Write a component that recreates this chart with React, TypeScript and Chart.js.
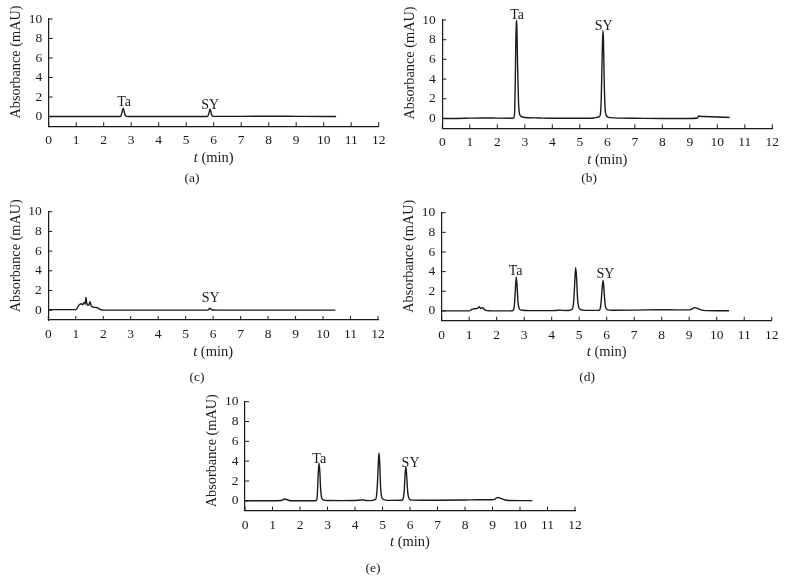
import React, { useEffect, useRef } from "react";
import { Chart, registerables } from "chart.js";

Chart.register(...registerables);

// ---------- data ----------
const X_TICKS = [0, 1, 2, 3, 4, 5, 6, 7, 8, 9, 10, 11, 12];
const Y_TICKS = [0, 2, 4, 6, 8, 10];

const timeA = [0, 1.0, 2.0, 2.6, 2.64, 2.68, 2.71, 2.74, 2.78, 2.84, 3.0, 4.0, 5.0, 5.75, 5.8, 5.84, 5.87, 5.9, 5.94, 6.0, 7.0, 8.0, 9.0, 10.0, 10.45];
const absA = [0, 0, 0, 0, 0.15, 0.6, 0.85, 0.55, 0.15, 0.02, 0, 0, 0, 0, 0.1, 0.5, 0.75, 0.45, 0.1, 0.02, 0.02, 0.03, 0.02, 0.01, 0];

const timeB = [0, 0.5, 1.0, 1.5, 2.0, 2.5, 2.6, 2.63, 2.66, 2.69, 2.71, 2.74, 2.77, 2.8, 2.85, 2.92, 3.0, 3.5, 4.0, 4.5, 5.0, 5.5, 5.68, 5.74, 5.78, 5.81, 5.84, 5.86, 5.89, 5.92, 5.96, 6.02, 6.1, 6.5, 7, 8, 9, 9.28, 9.32, 9.36, 9.5, 10, 10.45];
const absB = [0, 0, 0.03, 0.05, 0.03, 0.02, 0.05, 0.6, 5.0, 10.0, 9.5, 5.0, 1.8, 0.6, 0.25, 0.15, 0.1, 0.05, 0.02, 0.02, 0.02, 0.05, 0.15, 0.3, 2.0, 6.0, 8.95, 8.0, 3.5, 1.0, 0.35, 0.15, 0.08, 0.03, 0.02, 0, 0, 0.05, 0.25, 0.22, 0.2, 0.15, 0.1];

const timeC = [0, 0.5, 1.0, 1.05, 1.1, 1.15, 1.2, 1.25, 1.3, 1.34, 1.37, 1.4, 1.44, 1.48, 1.52, 1.56, 1.6, 1.66, 1.72, 1.78, 1.84, 1.9, 2.0, 3, 4, 5, 5.8, 5.85, 5.88, 5.92, 5.98, 6.5, 7, 8, 9, 10, 10.45];
const absC = [0.05, 0.05, 0.05, 0.2, 0.45, 0.6, 0.65, 0.55, 0.75, 0.6, 1.3, 0.7, 0.5, 0.55, 0.85, 0.45, 0.35, 0.3, 0.28, 0.25, 0.15, 0.05, 0, 0, 0, 0, 0, 0.12, 0.2, 0.1, 0.02, 0, 0, 0, 0, 0, 0];

const timeD = [0, 0.5, 1.0, 1.08, 1.15, 1.25, 1.32, 1.37, 1.41, 1.45, 1.5, 1.55, 1.6, 1.7, 2.0, 2.5, 2.6, 2.64, 2.68, 2.71, 2.74, 2.77, 2.81, 2.86, 2.95, 3.2, 4.0, 4.25, 4.3, 4.35, 4.6, 4.75, 4.8, 4.84, 4.87, 4.9, 4.94, 4.98, 5.04, 5.12, 5.3, 5.7, 5.76, 5.8, 5.84, 5.87, 5.9, 5.94, 5.99, 6.05, 6.2, 7, 8, 8.5, 9.0, 9.1, 9.2, 9.3, 9.45, 9.6, 10, 10.45];
const absD = [0, 0, 0, 0.12, 0.2, 0.22, 0.3, 0.42, 0.25, 0.28, 0.32, 0.15, 0.05, 0.02, 0, 0, 0.05, 0.5, 2.2, 3.45, 2.6, 1.0, 0.3, 0.12, 0.06, 0.03, 0.03, 0.07, 0.1, 0.05, 0.04, 0.2, 1.0, 3.0, 4.4, 3.6, 1.3, 0.4, 0.15, 0.08, 0.05, 0.05, 0.2, 1.0, 2.5, 3.1, 2.2, 0.7, 0.2, 0.1, 0.07, 0.08, 0.12, 0.1, 0.1, 0.2, 0.33, 0.25, 0.08, 0.03, 0.02, 0.02];

const timeE = [0, 0.5, 1.0, 1.3, 1.4, 1.45, 1.5, 1.55, 1.6, 1.7, 2.0, 2.5, 2.6, 2.63, 2.66, 2.69, 2.72, 2.75, 2.78, 2.82, 2.88, 3.0, 3.5, 4.0, 4.25, 4.3, 4.35, 4.5, 4.75, 4.8, 4.84, 4.87, 4.9, 4.93, 4.97, 5.03, 5.1, 5.3, 5.7, 5.75, 5.79, 5.82, 5.85, 5.88, 5.92, 5.96, 6.02, 6.1, 6.5, 7, 8, 8.5, 9.0, 9.1, 9.2, 9.3, 9.45, 9.6, 10, 10.45];
const absE = [0, 0, 0, 0.03, 0.12, 0.2, 0.1, 0.12, 0.03, 0.01, 0, 0, 0.05, 0.6, 2.5, 3.8, 3.0, 1.2, 0.4, 0.15, 0.06, 0.03, 0.02, 0.03, 0.08, 0.1, 0.05, 0.02, 0.15, 1.0, 3.2, 4.85, 3.8, 1.4, 0.4, 0.15, 0.07, 0.04, 0.05, 0.2, 1.0, 2.6, 3.45, 2.5, 0.8, 0.25, 0.1, 0.07, 0.06, 0.06, 0.08, 0.1, 0.1, 0.2, 0.33, 0.25, 0.08, 0.03, 0.02, 0.02];

// peak annotations: text, retention time of label centre, absorbance of label baseline
const peakTextA = ["Ta", "SY"];
const peakTimeA = [2.74, 5.87];
const peakLevelA = [1.08, 0.77];

const peakTextB = ["Ta", "SY"];
const peakTimeB = [2.72, 5.87];
const peakLevelB = [10.1, 9.0];

const peakTextC = ["SY"];
const peakTimeC = [5.91];
const peakLevelC = [0.8];

const peakTextD = ["Ta", "SY"];
const peakTimeD = [2.69, 5.95];
const peakLevelD = [3.64, 3.3];

const peakTextE = ["Ta", "SY"];
const peakTimeE = [2.7, 6.02];
const peakLevelE = [3.85, 3.41];

const X_TITLE_ITALIC = "t";
const X_TITLE_REST = " (min)";
const Y_TITLE = "Absorbance (mAU)";

// ---------- layout / style ----------
const FONT = '"Liberation Serif", "DejaVu Serif", serif';
const INK = "#1a1a1a";
const Y_SCALE_W = 40;
const X_SCALE_H = 26;

type Panel = {
  caption: string;
  left: number; top: number; w: number; h: number;
  area: { l: number; t: number; r: number; b: number };
  capX: number; capY: number; yTitleDy: number;
  time: number[]; abs: number[];
  pText: string[]; pTime: number[]; pLevel: number[];
};

const PANELS: Panel[] = [
  { caption: "(a)", left: 0, top: 0, w: 393, h: 195, area: { l: 48.7, t: 19, r: 378.7, b: 126.3 }, capX: 192, capY: 178, yTitleDy: 43, time: timeA, abs: absA, pText: peakTextA, pTime: peakTimeA, pLevel: peakLevelA },
  { caption: "(b)", left: 393, top: 0, w: 393, h: 195, area: { l: 49.3, t: 20, r: 379.3, b: 128.3 }, capX: 196, capY: 178, yTitleDy: 43, time: timeB, abs: absB, pText: peakTextB, pTime: peakTimeB, pLevel: peakLevelB },
  { caption: "(c)", left: 0, top: 195, w: 393, h: 190, area: { l: 48.3, t: 16.7, r: 378, b: 125 }, capX: 197, capY: 182, yTitleDy: 44, time: timeC, abs: absC, pText: peakTextC, pTime: peakTimeC, pLevel: peakLevelC },
  { caption: "(d)", left: 393, top: 195, w: 393, h: 190, area: { l: 48.7, t: 17.7, r: 378.7, b: 125.7 }, capX: 194, capY: 182, yTitleDy: 43.5, time: timeD, abs: absD, pText: peakTextD, pTime: peakTimeD, pLevel: peakLevelD },
  { caption: "(e)", left: 190, top: 385, w: 400, h: 198, area: { l: 55, t: 16.7, r: 385, b: 125.7 }, capX: 183, capY: 183, yTitleDy: 49, time: timeE, abs: absE, pText: peakTextE, pTime: peakTimeE, pLevel: peakLevelE },
];

const decorPlugin = {
  id: "decor",
  afterDraw(chart: any, _args: any, opts: any) {
    const p: Panel = opts.panel;
    if (!p) return;
    const { ctx, chartArea } = chart;
    const xs = chart.scales.x;
    const ys = chart.scales.y;
    ctx.save();
    ctx.strokeStyle = INK;
    ctx.lineWidth = 1;
    // inward tick marks
    xs.ticks.forEach((t: any) => {
      const px = xs.getPixelForValue(t.value);
      ctx.beginPath();
      ctx.moveTo(px, chartArea.bottom);
      ctx.lineTo(px, chartArea.bottom - 4);
      ctx.stroke();
    });
    ys.ticks.forEach((t: any) => {
      const py = ys.getPixelForValue(t.value);
      ctx.beginPath();
      ctx.moveTo(chartArea.left, py);
      ctx.lineTo(chartArea.left + 4, py);
      ctx.stroke();
    });
    ctx.fillStyle = INK;
    // peak labels
    ctx.font = `14px ${FONT}`;
    ctx.textAlign = "center";
    ctx.textBaseline = "alphabetic";
    p.pText.forEach((txt, i) => {
      ctx.fillText(txt, xs.getPixelForValue(p.pTime[i]), ys.getPixelForValue(p.pLevel[i]));
    });
    // x title with italic t
    const cx = (chartArea.left + chartArea.right) / 2;
    const ty = chartArea.bottom + 31.7;
    ctx.textBaseline = "middle";
    ctx.textAlign = "left";
    ctx.font = `italic 14.5px ${FONT}`;
    const w1 = ctx.measureText(X_TITLE_ITALIC).width;
    ctx.font = `14.5px ${FONT}`;
    const w2 = ctx.measureText(X_TITLE_REST).width;
    const sx = cx - (w1 + w2) / 2;
    ctx.font = `italic 14.5px ${FONT}`;
    ctx.fillText(X_TITLE_ITALIC, sx, ty);
    ctx.font = `14.5px ${FONT}`;
    ctx.fillText(X_TITLE_REST, sx + w1, ty);
    // y title
    ctx.save();
    ctx.translate(chartArea.left - 32.4, chartArea.top + p.yTitleDy);
    ctx.rotate(-Math.PI / 2);
    ctx.textAlign = "center";
    ctx.textBaseline = "middle";
    ctx.font = `14.3px ${FONT}`;
    ctx.fillText(Y_TITLE, 0, 0);
    ctx.restore();
    // caption
    ctx.textAlign = "center";
    ctx.textBaseline = "middle";
    ctx.font = `13.5px ${FONT}`;
    ctx.fillText(p.caption, p.capX, p.capY);
    ctx.restore();
  },
};

function PanelChart({ p }: { p: Panel }) {
  const ref = useRef<HTMLCanvasElement>(null);
  useEffect(() => {
    if (!ref.current) return;
    const chart = new Chart(ref.current, {
      type: "line",
      data: {
        datasets: [
          {
            data: p.time.map((t, i) => ({ x: t, y: p.abs[i] })),
            borderColor: INK,
            borderWidth: 1.4,
            pointRadius: 0,
            cubicInterpolationMode: "monotone",
            fill: false,
          },
        ],
      },
      options: {
        animation: false,
        responsive: false,
        events: [],
        layout: {
          padding: {
            left: p.area.l - Y_SCALE_W,
            top: p.area.t,
            right: p.w - p.area.r,
            bottom: p.h - p.area.b - X_SCALE_H,
          },
        },
        plugins: {
          legend: { display: false },
          tooltip: { enabled: false },
          decor: { panel: p },
        } as any,
        scales: {
          x: {
            type: "linear",
            min: 0,
            max: 12,
            afterFit: (s: any) => { s.height = X_SCALE_H; },
            afterBuildTicks: (s: any) => { s.ticks = X_TICKS.map((v) => ({ value: v })); },
            grid: { display: true, drawOnChartArea: false, drawTicks: false },
            border: { display: true, color: INK, width: 1.2 },
            ticks: { padding: 6.5, color: INK, font: { family: FONT, size: 13.5 }, maxRotation: 0, autoSkip: false },
          },
          y: {
            type: "linear",
            min: -1,
            max: 10,
            afterFit: (s: any) => { s.width = Y_SCALE_W; },
            afterBuildTicks: (s: any) => { s.ticks = Y_TICKS.map((v) => ({ value: v })); },
            grid: { display: true, drawOnChartArea: false, drawTicks: false },
            border: { display: true, color: INK, width: 1.2 },
            ticks: { padding: 6.5, color: INK, font: { family: FONT, size: 13.5 }, autoSkip: false },
          },
        },
      },
      plugins: [decorPlugin],
    });
    return () => chart.destroy();
  }, [p]);
  return (
    <canvas
      ref={ref}
      width={p.w}
      height={p.h}
      style={{ position: "absolute", left: p.left, top: p.top, width: p.w, height: p.h }}
    />
  );
}

export default function App() {
  return (
    <div style={{ position: "absolute", left: 0, top: 0, width: 786, height: 583, background: "#fff", overflow: "hidden" }}>
      {PANELS.map((p) => (
        <PanelChart key={p.caption} p={p} />
      ))}
    </div>
  );
}
